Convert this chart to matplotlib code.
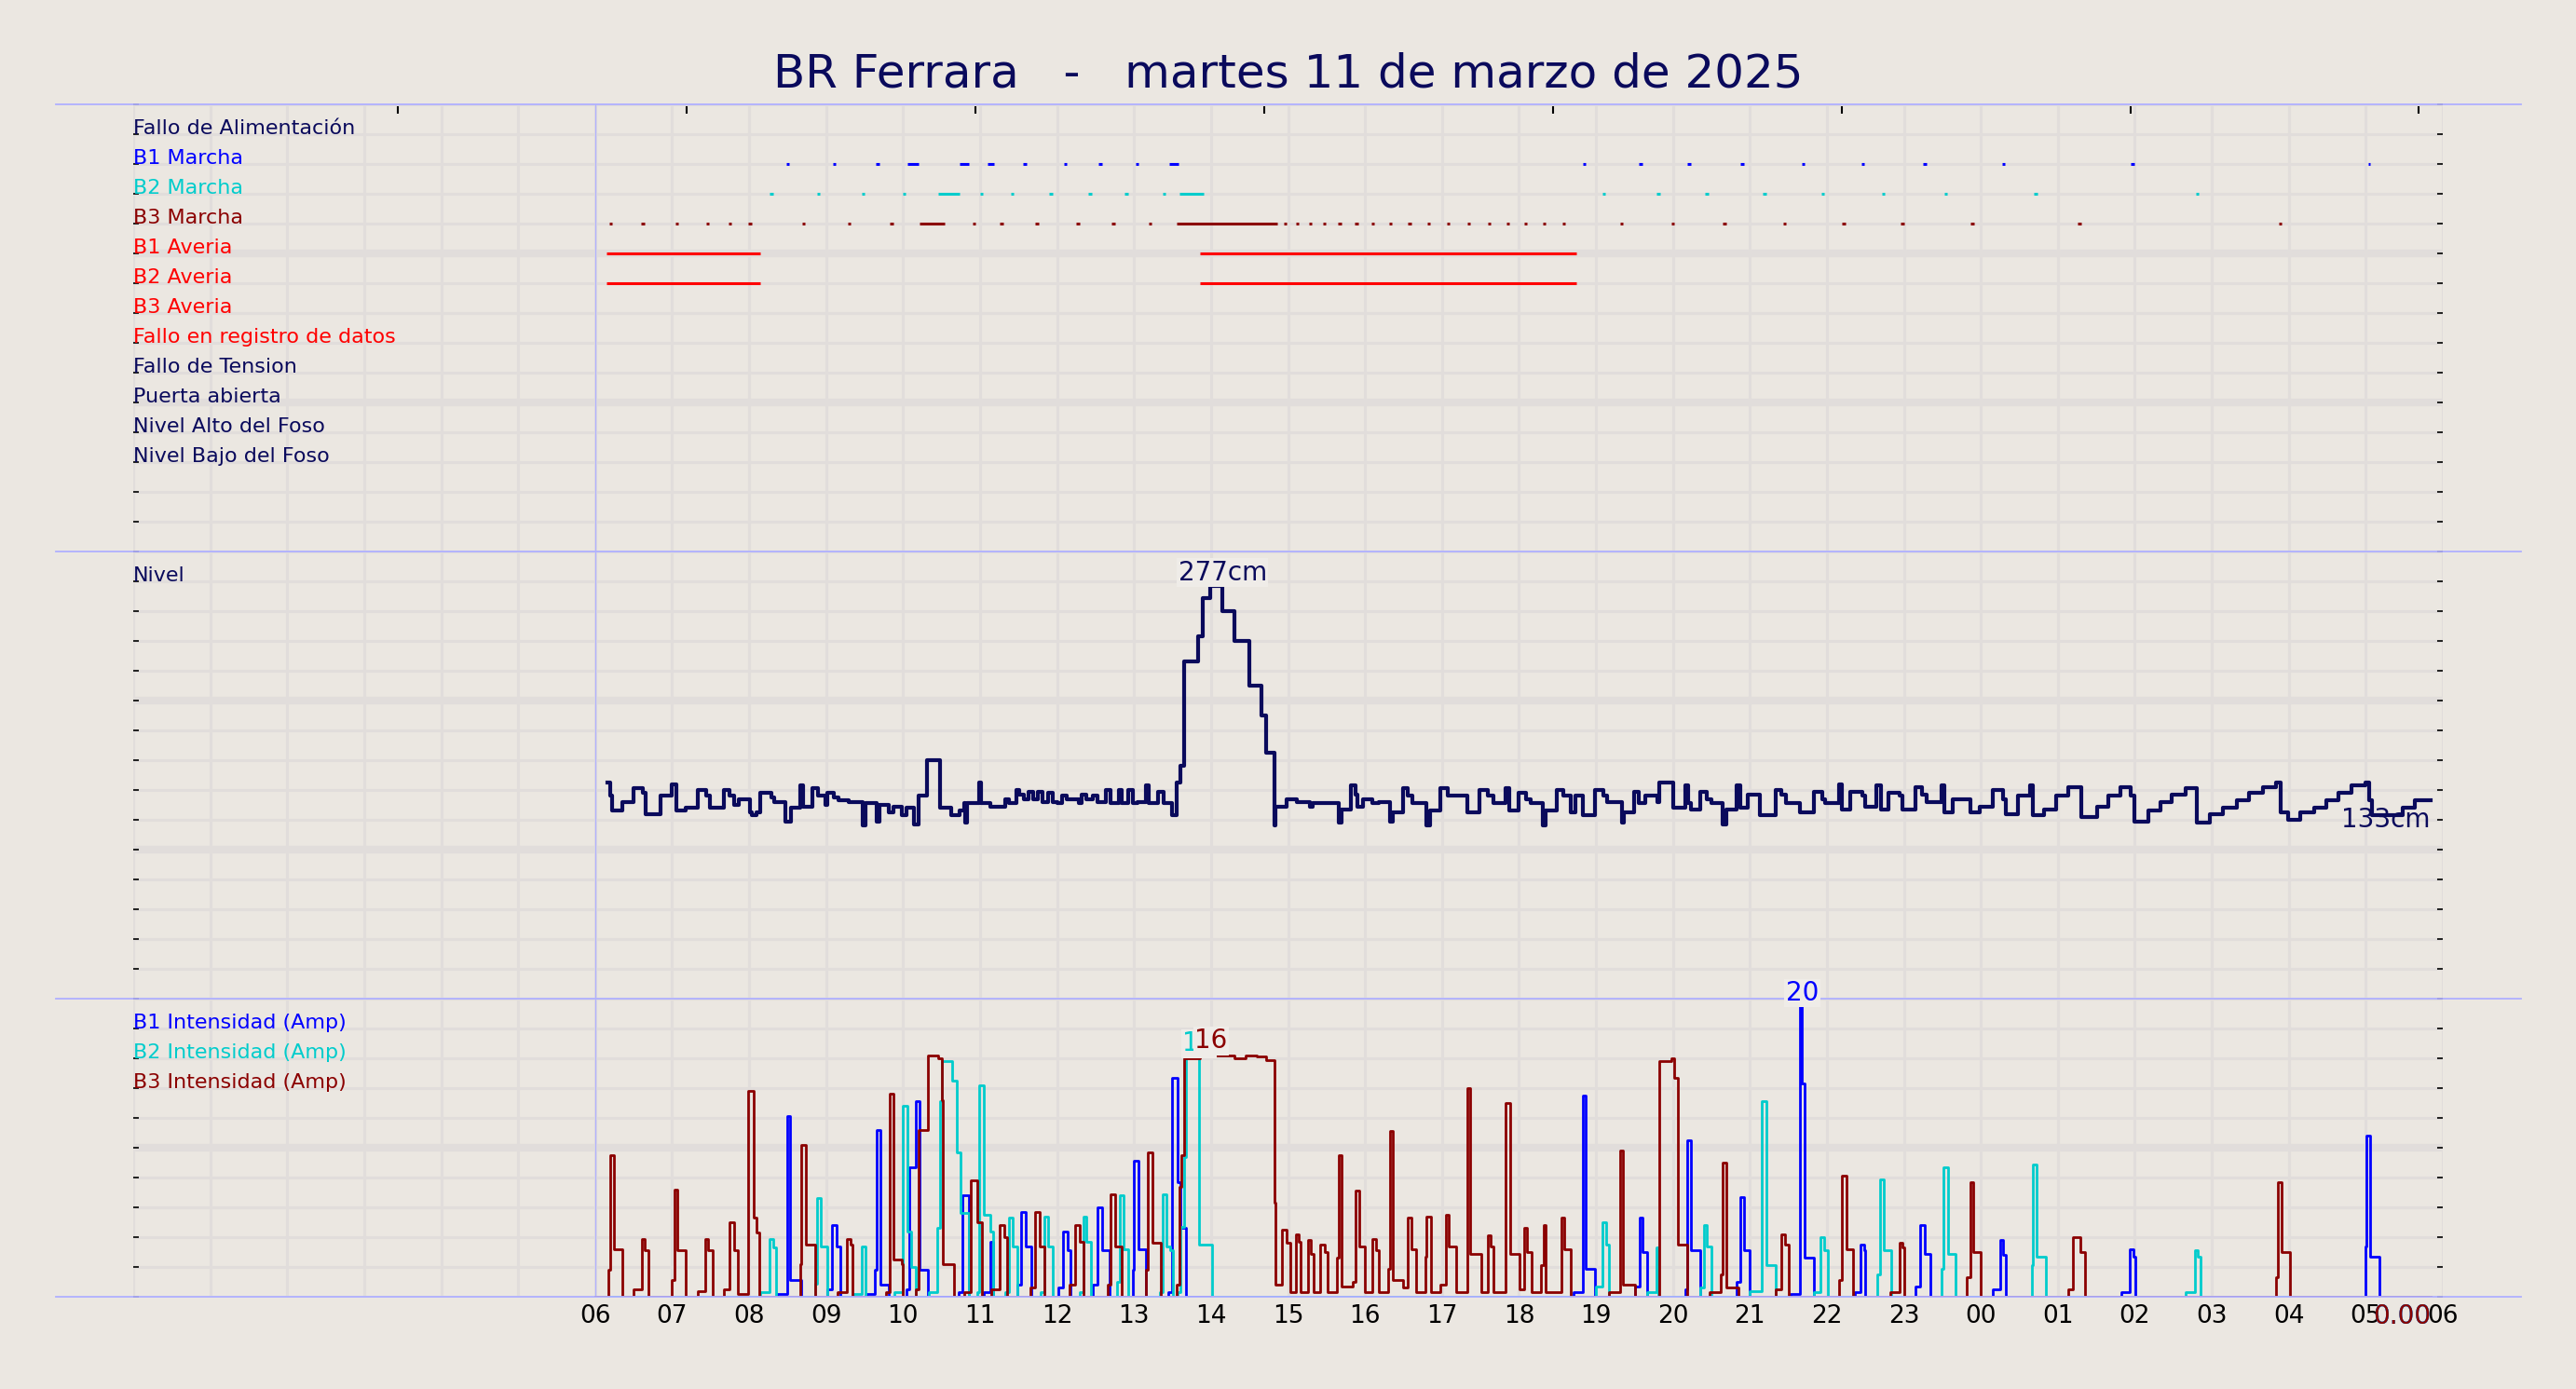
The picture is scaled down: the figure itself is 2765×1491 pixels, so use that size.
import numpy as np
import matplotlib
matplotlib.use("Agg")
import matplotlib.pyplot as plt
from matplotlib.lines import Line2D

TITLE = "BR Ferrara   -   martes 11 de marzo de 2025"

# rows of the event panel, top to bottom
EVENT_NAMES = ["Fallo de Alimentación", "B1 Marcha", "B2 Marcha", "B3 Marcha",
               "B1 Averia", "B2 Averia", "B3 Averia", "Fallo en registro de datos",
               "Fallo de Tension", "Puerta abierta", "Nivel Alto del Foso",
               "Nivel Bajo del Foso"]

# event on/off times (hours from 00:00 of the day)
B1_ON = [8.48, 9.09, 9.65, 10.06, 10.74, 11.10, 11.56, 12.09, 12.54, 13.02, 13.46,
         18.83, 19.56, 20.19, 20.88, 21.67, 22.45, 23.25, 24.27, 25.95, 29.03]
B1_OFF = [8.52, 9.13, 9.69, 10.20, 10.86, 11.18, 11.60, 12.13, 12.58, 13.06, 13.58,
          18.87, 19.60, 20.23, 20.92, 21.71, 22.49, 23.29, 24.31, 25.99, 29.06]
B2_ON = [8.27, 8.88, 9.46, 9.99, 10.45, 11.00, 11.40, 11.90, 12.41, 12.88, 13.37,
         13.59, 19.08, 19.79, 20.42, 21.17, 21.93, 22.71, 23.52, 24.69, 26.79]
B2_OFF = [8.31, 8.92, 9.50, 10.03, 10.74, 11.04, 11.44, 11.94, 12.45, 12.92, 13.41,
          13.91, 19.12, 19.83, 20.46, 21.21, 21.97, 22.75, 23.56, 24.73, 26.83]
B3_ON = [6.18, 6.60, 7.04, 7.44, 7.73, 7.99, 8.69, 9.28, 9.83, 10.21, 10.90, 11.26,
         11.72, 12.25, 12.71, 13.19, 13.55, 14.94, 15.10, 15.27, 15.45, 15.65, 15.87,
         16.08, 16.31, 16.56, 16.81, 17.06, 17.33, 17.59, 17.84, 18.07, 18.31, 18.56,
         19.31, 19.98, 20.65, 21.43, 22.20, 22.96, 23.87, 25.26, 27.87]
B3_OFF = [6.22, 6.64, 7.08, 7.48, 7.77, 8.03, 8.73, 9.32, 9.87, 10.54, 10.94, 11.30,
          11.76, 12.29, 12.75, 13.23, 14.86, 14.98, 15.14, 15.31, 15.49, 15.69, 15.91,
          16.12, 16.35, 16.60, 16.85, 17.10, 17.37, 17.63, 17.88, 18.11, 18.35, 18.60,
          19.35, 20.02, 20.69, 21.47, 22.24, 23.00, 23.91, 25.30, 27.91]
B1_FAULT_ON = [6.15, 13.86]
B1_FAULT_OFF = [8.14, 18.74]
B2_FAULT_ON = [6.15, 13.86]
B2_FAULT_OFF = [8.15, 18.75]

# pit level (cm): (hour, value)
LEVEL = [
    (6.16, 145), (6.19, 136), (6.22, 126), (6.35, 132), (6.50, 141), (6.62, 138),
    (6.66, 124), (6.85, 136), (6.99, 144), (7.06, 126), (7.18, 128), (7.33, 140),
    (7.44, 136), (7.49, 128), (7.67, 140), (7.75, 136), (7.81, 130), (7.87, 134),
    (8.01, 125), (8.03, 123), (8.09, 125), (8.15, 138), (8.29, 135), (8.33, 132),
    (8.47, 119), (8.54, 128), (8.66, 143), (8.70, 129), (8.82, 141), (8.90, 136),
    (8.99, 130), (9.02, 138), (9.10, 135), (9.16, 133), (9.30, 132), (9.48, 116),
    (9.51, 131), (9.66, 119), (9.69, 130), (9.82, 125), (9.88, 129), (9.98, 123),
    (10.04, 128), (10.14, 117), (10.20, 136), (10.31, 160), (10.48, 128), (10.62, 123),
    (10.73, 126), (10.79, 131), (10.81, 118), (10.83, 131), (10.99, 145), (11.01, 131),
    (11.13, 129), (11.33, 134), (11.37, 131), (11.47, 140), (11.51, 137), (11.57, 134),
    (11.63, 139), (11.69, 134), (11.75, 139), (11.81, 132), (11.88, 138), (11.94, 132),
    (12.00, 131), (12.06, 136), (12.12, 134), (12.28, 131), (12.32, 137), (12.38, 134),
    (12.46, 136), (12.52, 132), (12.64, 140), (12.70, 131), (12.80, 140), (12.84, 131),
    (12.92, 140), (12.98, 131), (13.04, 132), (13.15, 143), (13.19, 131), (13.31, 139),
    (13.39, 131), (13.49, 123), (13.55, 145), (13.60, 156), (13.65, 226), (13.83, 243),
    (13.89, 269), (13.99, 277), (14.15, 260), (14.31, 240), (14.50, 210), (14.66, 190),
    (14.72, 165), (14.82, 116), (14.84, 129), (14.98, 134), (15.12, 132), (15.28, 129),
    (15.32, 131), (15.66, 118), (15.70, 127), (15.82, 143), (15.88, 137), (15.90, 129),
    (15.98, 134), (16.10, 131), (16.18, 132), (16.32, 119), (16.36, 125), (16.50, 141),
    (16.56, 136), (16.62, 131), (16.80, 116), (16.84, 126), (16.98, 141), (17.07, 136),
    (17.33, 125), (17.49, 140), (17.59, 136), (17.67, 131), (17.83, 141), (17.87, 126),
    (17.99, 138), (18.09, 134), (18.15, 131), (18.31, 116), (18.35, 126), (18.49, 140),
    (18.57, 136), (18.67, 125), (18.73, 136), (18.83, 123), (18.99, 140), (19.10, 136),
    (19.14, 132), (19.34, 118), (19.36, 125), (19.50, 139), (19.56, 131), (19.64, 136),
    (19.80, 132), (19.82, 145), (20.00, 128), (20.16, 143), (20.20, 131), (20.24, 127),
    (20.36, 139), (20.44, 134), (20.50, 131), (20.65, 117), (20.69, 127), (20.83, 143),
    (20.88, 128), (20.97, 137), (21.13, 123), (21.33, 140), (21.41, 137), (21.47, 131),
    (21.65, 125), (21.83, 139), (21.94, 134), (21.98, 131), (22.16, 144), (22.20, 127),
    (22.30, 139), (22.46, 136), (22.50, 129), (22.64, 143), (22.70, 127), (22.80, 138),
    (22.94, 136), (22.98, 127), (23.15, 142), (23.23, 137), (23.29, 132), (23.49, 143),
    (23.53, 125), (23.63, 134), (23.87, 125), (23.99, 129), (24.15, 140), (24.29, 134),
    (24.33, 124), (24.48, 136), (24.64, 143), (24.68, 123), (24.82, 127), (24.98, 136),
    (25.14, 142), (25.31, 122), (25.51, 129), (25.65, 136), (25.81, 142), (25.95, 136),
    (25.99, 119), (26.17, 126), (26.33, 132), (26.48, 137), (26.66, 141), (26.80, 118),
    (26.98, 124), (27.14, 128), (27.32, 133), (27.48, 138), (27.67, 142), (27.83, 145),
    (27.89, 125), (27.99, 120), (28.15, 125), (28.33, 128), (28.49, 133), (28.65, 138),
    (28.81, 143), (29.00, 145), (29.04, 133), (29.08, 123), (29.48, 128), (29.64, 133),
    (29.84, 133),
]

# pump currents (A): (hour, value)
B1_AMPS = [
    (6.00, 0), (8.36, 0.2), (8.49, 12.1), (8.53, 1.1), (8.68, 0),
    (9.02, 0.5), (9.08, 4.8), (9.14, 3.4), (9.18, 0),
    (9.52, 0.2), (9.63, 1.8), (9.66, 11.2), (9.70, 0.8), (9.82, 0),
    (10.05, 0.5), (10.08, 8.7), (10.17, 13.1), (10.21, 1.8), (10.32, 0),
    (10.72, 0.3), (10.77, 6.8), (10.86, 0),
    (11.05, 0.3), (11.13, 3.7), (11.17, 0),
    (11.49, 0.8), (11.53, 5.7), (11.59, 3.4), (11.67, 0),
    (12.02, 0.6), (12.08, 4.4), (12.14, 3.1), (12.18, 0),
    (12.46, 0.8), (12.52, 6.0), (12.59, 3.1), (12.68, 0),
    (12.98, 1.8), (13.00, 9.1), (13.06, 3.2), (13.15, 0),
    (13.45, 0.3), (13.49, 14.7), (13.57, 7.7), (13.60, 4.6), (13.67, 0),
    (18.71, 0.3), (18.83, 13.5), (18.87, 1.9), (18.99, 0),
    (19.51, 0.7), (19.57, 5.3), (19.61, 3.0), (19.67, 0),
    (20.16, 0.5), (20.18, 10.5), (20.24, 3.1), (20.36, 0),
    (20.83, 1.0), (20.88, 6.7), (20.92, 3.1), (21.00, 0),
    (21.53, 0.2), (21.65, 19.5), (21.68, 14.3), (21.71, 2.6), (21.83, 0),
    (22.36, 0.3), (22.44, 3.5), (22.48, 3.1), (22.50, 0),
    (23.15, 0.7), (23.21, 4.8), (23.27, 2.9), (23.35, 0),
    (24.15, 0.5), (24.25, 3.8), (24.29, 2.8), (24.33, 0),
    (25.82, 0.3), (25.93, 3.2), (25.98, 2.7), (26.01, 0),
    (29.00, 3.4), (29.01, 10.8), (29.06, 2.7), (29.18, 0), (29.84, 0),
]
B2_AMPS = [
    (6.00, 0), (8.15, 0.3), (8.27, 3.9), (8.31, 3.3), (8.35, 0),
    (8.86, 0.9), (8.88, 6.6), (8.93, 3.4), (9.02, 0),
    (9.36, 0.2), (9.46, 3.4), (9.51, 0),
    (9.89, 0.3), (10.00, 12.8), (10.06, 4.4), (10.10, 2.0), (10.17, 0),
    (10.34, 0.3), (10.44, 4.6), (10.48, 13.1), (10.51, 15.8), (10.64, 14.5),
    (10.70, 9.7), (10.75, 5.6), (10.86, 0),
    (10.96, 0.3), (10.99, 14.2), (11.05, 5.5), (11.13, 4.4), (11.17, 0),
    (11.33, 0.3), (11.37, 5.3), (11.43, 3.4), (11.49, 0),
    (11.79, 0.3), (11.83, 5.4), (11.88, 3.4), (11.94, 0),
    (12.30, 0.3), (12.34, 5.4), (12.38, 3.7), (12.44, 0),
    (12.78, 1.0), (12.82, 6.8), (12.86, 3.2), (12.92, 0),
    (13.33, 0.3), (13.37, 6.9), (13.42, 3.4), (13.47, 3.1), (13.51, 0),
    (13.57, 0.3), (13.60, 4.7), (13.65, 9.4), (13.67, 16.1), (13.84, 3.5), (14.01, 0),
    (19.00, 0.7), (19.08, 5.0), (19.13, 3.5), (19.17, 0),
    (19.67, 0.3), (19.79, 3.3), (19.81, 0),
    (20.36, 0.6), (20.40, 4.8), (20.44, 3.4), (20.50, 0),
    (21.00, 0.4), (21.15, 13.1), (21.21, 2.1), (21.33, 0),
    (21.83, 0.3), (21.92, 4.0), (21.97, 3.1), (22.01, 0),
    (22.65, 1.5), (22.69, 7.9), (22.74, 3.1), (22.84, 0),
    (23.49, 1.9), (23.51, 8.7), (23.57, 2.9), (23.67, 0),
    (24.66, 2.1), (24.68, 8.9), (24.72, 2.7), (24.84, 0),
    (26.66, 0.3), (26.78, 3.1), (26.82, 2.7), (26.85, 0), (29.84, 0),
]
B3_AMPS = [
    (6.00, 0), (6.17, 1.8), (6.20, 9.5), (6.25, 3.2), (6.35, 0),
    (6.50, 0.5), (6.61, 3.9), (6.64, 3.1), (6.69, 0),
    (7.00, 1.1), (7.03, 7.2), (7.07, 3.1), (7.18, 0),
    (7.33, 0.4), (7.43, 3.9), (7.47, 3.1), (7.53, 0),
    (7.67, 0.5), (7.74, 5.0), (7.80, 3.1), (7.85, 0.2), (7.99, 13.8), (8.06, 5.3),
    (8.09, 4.3), (8.13, 0),
    (8.66, 2.2), (8.68, 10.2), (8.74, 3.5), (8.86, 0),
    (9.15, 0.3), (9.27, 3.9), (9.32, 3.5), (9.34, 0),
    (9.78, 0.3), (9.83, 13.6), (9.88, 2.5), (9.98, 2.2), (10.00, 0),
    (10.16, 0.5), (10.20, 11.2), (10.32, 16.2), (10.46, 16.0), (10.50, 13.2),
    (10.52, 2.2), (10.66, 0),
    (10.80, 0.3), (10.88, 7.8), (10.96, 5.0), (11.02, 0),
    (11.15, 0.5), (11.25, 4.8), (11.31, 4.0), (11.35, 0),
    (11.65, 0.6), (11.71, 5.7), (11.77, 3.4), (11.83, 0),
    (12.16, 0.8), (12.24, 4.8), (12.30, 3.7), (12.34, 0),
    (12.66, 0.8), (12.70, 6.9), (12.76, 3.4), (12.84, 0),
    (13.15, 1.8), (13.18, 9.7), (13.24, 3.6), (13.35, 0),
    (13.55, 0.8), (13.59, 7.4), (13.61, 9.5), (13.65, 16.0), (13.86, 16.3),
    (14.00, 16.2), (14.30, 16.0), (14.45, 16.2), (14.60, 16.1), (14.72, 15.9),
    (14.82, 6.3), (14.84, 0.8), (14.92, 4.5), (14.98, 3.6), (15.03, 0.3),
    (15.10, 4.2), (15.14, 3.7), (15.16, 0.3), (15.26, 3.8), (15.30, 2.9),
    (15.33, 0.3), (15.42, 3.5), (15.48, 3.0), (15.52, 0.3), (15.64, 2.6),
    (15.66, 9.5), (15.70, 0.7), (15.84, 1.0), (15.88, 7.1), (15.92, 3.4),
    (16.00, 0.3), (16.10, 3.9), (16.14, 3.1), (16.18, 0.3), (16.30, 1.9),
    (16.32, 11.1), (16.36, 1.1), (16.50, 0.6), (16.56, 5.3), (16.60, 3.2),
    (16.66, 0.3), (16.78, 2.7), (16.80, 5.4), (16.86, 0.3), (16.98, 0.8),
    (17.05, 5.5), (17.09, 3.4), (17.19, 0.3), (17.33, 14.0), (17.37, 2.9),
    (17.51, 0.3), (17.59, 4.1), (17.63, 3.4), (17.67, 0.3), (17.83, 13.0),
    (17.89, 2.9), (18.01, 0.5), (18.07, 4.6), (18.11, 3.0), (18.17, 0.3),
    (18.29, 2.1), (18.32, 4.8), (18.35, 0.3), (18.55, 5.3), (18.59, 3.2), (18.67, 0),
    (19.17, 0.3), (19.31, 9.8), (19.35, 0.8), (19.51, 0),
    (19.82, 15.8), (19.98, 16.0), (20.02, 14.7), (20.06, 3.5), (20.18, 0),
    (20.47, 0.3), (20.62, 1.5), (20.64, 9.0), (20.69, 0.6), (20.85, 0),
    (21.33, 0.5), (21.41, 4.2), (21.46, 3.5), (21.50, 0),
    (22.16, 1.1), (22.20, 8.1), (22.25, 3.2), (22.34, 0),
    (22.82, 0.3), (22.94, 3.6), (22.98, 3.3), (23.00, 0),
    (23.82, 1.3), (23.86, 7.7), (23.90, 3.0), (24.00, 0),
    (25.14, 0.5), (25.20, 4.0), (25.29, 3.0), (25.35, 0),
    (27.83, 1.3), (27.86, 7.7), (27.91, 3.0), (28.01, 0), (29.84, 0),
]

AMP_NAMES = ["B1 Intensidad (Amp)", "B2 Intensidad (Amp)", "B3 Intensidad (Amp)"]
HOURS = list(range(0, 31))
TOP_TICKS = [3.44, 7.19, 10.94, 14.69, 18.44, 22.19, 25.94, 29.69]

BG = "#ebe7e1"
GRID = "#e1dddb"
SEP = "#b0b0ff"
LABEL_BG = "#efece8"
NAVY = "#0a0a5c"
BLUE = "#0000ff"
CYAN = "#00cccc"
DRED = "#8b0000"
RED = "#ff0000"

EVENT_COLORS = [NAVY, BLUE, CYAN, DRED, RED, RED, RED, RED, NAVY, NAVY, NAVY, NAVY]

W, H = 2765, 1491
LEFT, RIGHT = 143, 2622


def fx(px):
    return px / W


def fy(py):
    return 1 - py / H


fig = plt.figure(figsize=(W / 100, H / 100), dpi=100, facecolor=BG)


def make_axes(top, bottom):
    return fig.add_axes([fx(LEFT), fy(bottom), (RIGHT - LEFT) / W, (bottom - top) / H])


def style_axes(ax, ymax, ystep, major):
    ax.set_facecolor(BG)
    ax.set_xlim(0, 30)
    ax.set_ylim(0, ymax)
    for sp in ax.spines.values():
        sp.set_visible(False)
    ax.set_xticks(HOURS)
    ax.set_xticklabels([])
    ax.set_yticks(np.arange(0, ymax + ystep / 2, ystep))
    ax.set_yticklabels([])
    ax.tick_params(axis="x", which="major", length=0)
    ax.tick_params(axis="y", which="major", direction="in", left=True, right=True,
                   length=4, width=1.2, color="black")
    ax.set_axisbelow(True)
    ax.grid(True, which="major", color=GRID, lw=2.2)
    for y in np.arange(major, ymax, major):
        ax.axhline(y, color=GRID, lw=6, zorder=0.5)
    ax.axvline(6, color=SEP, lw=0.9, zorder=0.6)


def last_value(ax, x, y, s, color):
    # value of the last sample, just below and left of the end of the trace
    ax.annotate(s, (x, y), xytext=(0, -5), textcoords="offset points", ha="right",
                va="top", fontsize=20, color=color, zorder=4, annotation_clip=False)


ax_ev = make_axes(112, 592)
ax_lv = make_axes(592, 1072)
ax_am = make_axes(1072, 1392)
style_axes(ax_ev, 15, 1, 5)
style_axes(ax_lv, 300, 20, 100)
style_axes(ax_am, 20, 2, 10)

# event panel
for i, (name, color) in enumerate(zip(EVENT_NAMES, EVENT_COLORS)):
    ax_ev.text(0, 14 - i, name, color=color, fontsize=16, ha="left", va="baseline")

events = [(B1_ON, B1_OFF, 13, BLUE), (B2_ON, B2_OFF, 12, CYAN), (B3_ON, B3_OFF, 11, DRED),
          (B1_FAULT_ON, B1_FAULT_OFF, 10, RED), (B2_FAULT_ON, B2_FAULT_OFF, 9, RED)]
for on, off, y, color in events:
    ax_ev.hlines([y] * len(on), on, off, color=color, lw=2.2, zorder=3)

ax_ev.set_xticks(TOP_TICKS, minor=True)
ax_ev.tick_params(axis="x", which="minor", top=True, bottom=False, direction="in",
                  length=7, width=1.5, color="black")

# level panel
lt, lv = zip(*LEVEL)
ax_lv.step(lt, lv, where="post", color=NAVY, lw=3, zorder=3)
ax_lv.text(0, 280, "Nivel", color=NAVY, fontsize=16, ha="left", va="baseline")
i = int(np.argmax(lv))
fig.text(lt[i + 1], lv[i], f"{lv[i]:.0f}cm", transform=ax_lv.transData,
         ha="center", va="bottom", fontsize=20, color=NAVY, zorder=5,
         bbox=dict(fc=LABEL_BG, ec="none", pad=1))
last_value(ax_lv, lt[-1], lv[-1], f"{lv[-1]:.0f}cm", NAVY)

# current panel
amp_series = [(B1_AMPS, BLUE), (B2_AMPS, CYAN), (B3_AMPS, DRED)]
for k, (series, color) in enumerate(amp_series):
    t, a = zip(*series)
    ax_am.step(t, a, where="post", color=color, lw=2, zorder=3)
    ax_am.text(0, 18 - 2 * k, AMP_NAMES[k], color=color, fontsize=16, ha="left",
               va="baseline")
for series, color in amp_series:
    t, a = zip(*series)
    j = int(np.argmax(a))
    fig.text(t[j + 1], a[j], f"{a[j]:.0f}", transform=ax_am.transData,
             ha="center", va="bottom", fontsize=20, color=color, zorder=5,
             bbox=dict(fc=LABEL_BG, ec="none", pad=1))
    last_value(ax_am, t[-1], a[-1], f"{a[-1]:.2f}", color)

ax_am.set_xticklabels(["" if h < 6 else f"{h % 24:02d}" for h in HOURS], fontsize=19)
ax_am.tick_params(axis="x", which="major", pad=6, labelcolor="black")

for py in (112, 592, 1072, 1392):
    fig.add_artist(Line2D([fx(60), fx(2706)], [fy(py)] * 2, color=SEP, lw=1.3, zorder=2))

fig.text(0.5, fy(79), TITLE, ha="center", va="center", fontsize=36, color=NAVY)

fig.savefig("out.png", dpi=100, facecolor=BG)
